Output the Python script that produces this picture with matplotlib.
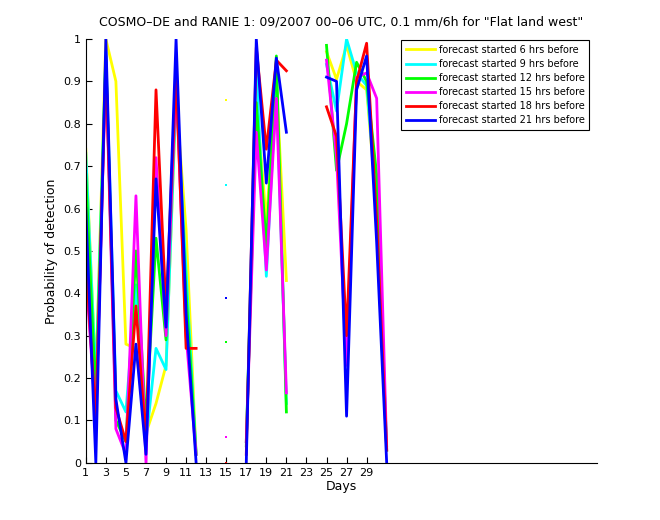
import numpy as np
import matplotlib
matplotlib.use("Agg")
import matplotlib.pyplot as plt

nan = np.nan
days = np.arange(1, 32)

# probability of detection per forecast lead time (NaN = no data)
pod_6h = [0.74, 0.20, 1.00, 0.90, 0.28, 0.27, 0.07, 0.14, 0.23, 0.86, 0.55, 0.02,
          nan, nan, 0.855, nan, 0.04, 0.86, 0.57, 0.90, 0.43, nan, nan, nan,
          0.97, 0.905, 0.985, 0.90, 0.88, 0.60, 0.03]
pod_9h = [0.73, 0.19, 0.97, 0.17, 0.12, 0.42, 0.05, 0.27, 0.22, 0.88, 0.45, 0.02,
          nan, nan, 0.655, nan, 0.04, 0.93, 0.44, 0.90, 0.14, nan, nan, nan,
          0.94, 0.83, 1.00, 0.92, 0.89, 0.62, 0.04]
pod_12h = [0.68, 0.15, 0.96, 0.10, 0.05, 0.50, 0.09, 0.53, 0.29, 0.90, 0.40, 0.02,
           nan, nan, 0.286, nan, 0.05, 0.85, 0.51, 0.96, 0.12, nan, nan, nan,
           0.985, 0.69, 0.80, 0.945, 0.90, 0.68, 0.03]
pod_15h = [0.45, 0.10, 0.94, 0.08, 0.02, 0.63, 0.00, 0.72, 0.30, 0.90, 0.30, 0.02,
           nan, nan, 0.062, nan, 0.05, 0.78, 0.455, 0.86, 0.165, nan, nan, nan,
           0.95, 0.72, 0.23, 0.91, 0.92, 0.86, 0.035]
pod_18h = [0.48, 0.10, 0.95, 0.13, 0.05, 0.37, 0.05, 0.88, 0.36, 0.92, 0.27, 0.27,
           nan, nan, 0.00, nan, 0.02, 0.98, 0.74, 0.95, 0.925, nan, nan, nan,
           0.84, 0.77, 0.30, 0.90, 0.99, 0.57, 0.03]
pod_21h = [0.60, 0.00, 1.00, 0.15, 0.00, 0.28, 0.02, 0.67, 0.32, 1.00, 0.35, 0.00,
           nan, nan, 0.388, nan, 0.00, 1.00, 0.66, 0.955, 0.78, nan, nan, nan,
           0.91, 0.90, 0.11, 0.88, 0.96, 0.52, 0.00]

series = [pod_6h, pod_9h, pod_12h, pod_15h, pod_18h, pod_21h]
labels = ["forecast started 6 hrs before", "forecast started 9 hrs before",
          "forecast started 12 hrs before", "forecast started 15 hrs before",
          "forecast started 18 hrs before", "forecast started 21 hrs before"]
colors = ["#ffff00", "#00ffff", "#00ff00", "#ff00ff", "#ff0000", "#0000ff"]

fig = plt.figure(figsize=(6.6, 5.2), dpi=100)
ax = fig.add_axes([0.13, 0.11, 0.775, 0.815])

for vals, lab, col in zip(series, labels, colors):
    v = np.array(vals, dtype=float)
    ax.plot(days, v, color=col, lw=2, label=lab)
    # isolated values (neighbours missing) show up as small dots
    prev = np.r_[nan, v[:-1]]
    nxt = np.r_[v[1:], nan]
    lone = ~np.isnan(v) & np.isnan(prev) & np.isnan(nxt)
    ax.plot(days[lone], v[lone], ls="none", marker="s", ms=2, color=col, mew=0)

ax.set_xlim(1, 52)
ax.set_ylim(0, 1)
ax.set_xticks(np.arange(1, 30, 2))
ax.set_yticks(np.arange(0, 1.01, 0.1))
ax.set_yticklabels(["0", "0.1", "0.2", "0.3", "0.4", "0.5", "0.6", "0.7", "0.8", "0.9", "1"])
ax.tick_params(direction="in", labelsize=8, length=4)
ax.spines["top"].set_visible(False)
ax.spines["right"].set_visible(False)

ax.set_xlabel("Days", fontsize=9, labelpad=2)
ax.set_ylabel("Probability of detection", fontsize=9)
ax.set_title('COSMO\u2013DE and RANIE 1: 09/2007 00\u201306 UTC, 0.1 mm/6h for "Flat land west"',
             fontsize=9, pad=10)

leg = ax.legend(loc="upper right", bbox_to_anchor=(0.993, 1.008), fontsize=7,
                handlelength=3.0, handletextpad=0.4, labelspacing=0.42,
                borderpad=0.45, fancybox=False, framealpha=1)
leg.get_frame().set_edgecolor("black")
leg.get_frame().set_linewidth(0.8)

fig.savefig("out.png", dpi=100)
